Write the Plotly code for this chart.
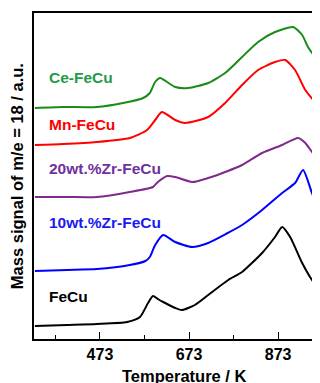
import plotly.graph_objects as go

# Temperature (K) and signal (a.u.)
fecu_T = [327, 400, 466, 534, 563, 581, 592, 603, 615, 642, 657, 686, 716, 761, 792, 837, 866, 882, 900, 927, 949, 967]
fecu_S = [13, 14, 15, 17, 22, 36, 43, 40, 37, 31, 29, 34, 44, 59, 67, 86, 102, 112, 102, 76, 59, 49]

zr10_T = [327, 400, 466, 540, 575, 585, 597, 615, 642, 680, 716, 760, 792, 837, 882, 911, 929, 949, 967]
zr10_S = [68, 69, 70, 74, 78, 82, 94, 104, 97, 92, 96, 106, 114, 129, 146, 156, 169, 146, 127]

zr20_T = [327, 400, 466, 540, 592, 603, 624, 642, 680, 716, 760, 792, 837, 882, 918, 934, 949, 967]
zr20_S = [142, 142, 142, 147, 152, 157, 163, 162, 157, 161, 168, 174, 186, 194, 201, 196, 187, 177]

mn_T = [327, 390, 466, 540, 579, 597, 612, 642, 664, 716, 754, 792, 828, 866, 889, 911, 934, 952, 967]
mn_S = [194, 195, 197, 201, 209, 219, 227, 219, 216, 222, 236, 254, 269, 277, 279, 269, 249, 239, 232]

ce_T = [327, 390, 466, 525, 570, 585, 597, 608, 642, 671, 716, 754, 792, 828, 866, 907, 927, 940, 956, 967]
ce_S = [231, 232, 232, 236, 241, 246, 257, 261, 252, 251, 256, 266, 282, 297, 307, 312, 304, 292, 282, 276]

series = [
    ("FeCu", fecu_T, fecu_S, "#000000", "#000000", 43),
    ("10wt.%Zr-FeCu", zr10_T, zr10_S, "#0000ff", "#1a1af0", 117),
    ("20wt.%Zr-FeCu", zr20_T, zr20_S, "#7f2a8c", "#7030a0", 171),
    ("Mn-FeCu", mn_T, mn_S, "#ff0000", "#ff0000", 215),
    ("Ce-FeCu", ce_T, ce_S, "#1a8a1a", "#1f9b47", 262),
]

tick_vals = [473, 673, 873]
tick_text = ["473", "673", "873"]

fig = go.Figure()
font_family = "Liberation Sans, Arial, sans-serif"
for name, T, S, lc, tc, ly in series:
    fig.add_trace(go.Scatter(x=T, y=S, mode="lines", name=name,
                             line=dict(color=lc, width=2, shape="spline", smoothing=0.6),
                             showlegend=False))
    fig.add_annotation(x=354, y=ly, xref="x", yref="y", text="<b>%s</b>" % name,
                       showarrow=False, xanchor="left", yanchor="middle",
                       font=dict(family=font_family, size=15.5, color=tc))

fig.add_annotation(x=-0.059, y=0.5, xref="paper", yref="paper",
                   text="<b>Mass signal of m/e = 18 / a.u.</b>", textangle=-90,
                   showarrow=False, xanchor="center", yanchor="middle",
                   font=dict(family=font_family, size=16.5, color="black"))
fig.add_annotation(x=0.525, y=-0.113, xref="paper", yref="paper",
                   text="<b>Temperature / K</b>", showarrow=False,
                   xanchor="center", yanchor="middle",
                   font=dict(family=font_family, size=16.5, color="black"))

fig.update_xaxes(range=[325, 967], showline=True, linecolor="black", linewidth=1.5,
                 mirror=True, ticks="inside", ticklen=7, tickwidth=1.2, tickcolor="black",
                 tickvals=tick_vals, ticktext=["<b>%s</b>" % t for t in tick_text],
                 tickfont=dict(family=font_family, size=16, color="black"),
                 showgrid=False, zeroline=False, automargin=False,
                 minor=dict(ticks="inside", ticklen=4, tickwidth=1.2, tickcolor="black",
                            tickvals=[373, 573, 773]))
fig.update_yaxes(range=[0, 326], showline=True, linecolor="black", linewidth=1.5,
                 mirror=False, ticks="", showticklabels=False, showgrid=False,
                 zeroline=False, automargin=False)

# page body adds an 8px offset; margins compensate so the plot area sits at
# x 34..320, y 13..339 in the window
fig.update_layout(width=320, height=383, margin=dict(l=26, r=8, t=5, b=52),
                  plot_bgcolor="white", paper_bgcolor="white")

fig.write_html("out.html")
